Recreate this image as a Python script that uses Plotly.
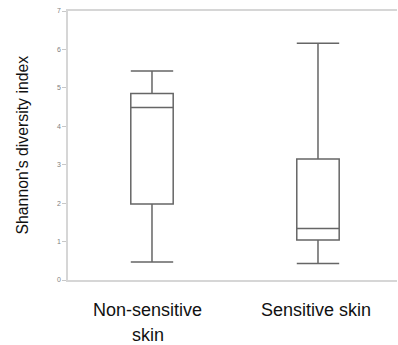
import plotly.graph_objects as go

categories = ["Non-sensitive skin", "Sensitive skin"]
tick_text = ["Non-sensitive<br>skin", "Sensitive skin"]
lower_whisker = [0.47, 0.43]
q1 = [1.98, 1.04]
median = [4.49, 1.34]
q3 = [4.85, 3.15]
upper_whisker = [5.44, 6.16]
y_ticks = [0, 1, 2, 3, 4, 5, 6, 7]

fig = go.Figure()
fig.add_trace(go.Box(
    x=categories,
    q1=q1, median=median, q3=q3,
    lowerfence=lower_whisker, upperfence=upper_whisker,
    fillcolor="rgba(255,255,255,0)",
    line=dict(color="#666666", width=1.5),
    whiskerwidth=1,
    boxpoints=False,
    showlegend=False,
))

for cat, txt, dx in zip(categories, tick_text, [-4, -2]):
    for i, line in enumerate(txt.split("<br>")):
        fig.add_annotation(
            x=cat, xref="x", y=0, yref="paper",
            text=line, showarrow=False,
            yanchor="middle", xanchor="center",
            xshift=dx, yshift=-30 - 25 * i,
            font=dict(family="Liberation Sans, Arial", size=18, color="#111111"),
        )

fig.add_annotation(
    x=0, xref="paper", xshift=-46, y=0.5, yref="paper",
    text="Shannon's diversity index", textangle=-90, showarrow=False,
    xanchor="center", yanchor="middle",
    font=dict(family="Liberation Sans, Arial", size=15.8, color="#111111"),
)

fig.update_layout(
    width=398, height=345,
    margin=dict(l=68, r=1, t=11, b=65),
    paper_bgcolor="white", plot_bgcolor="white",
    boxgap=0.635,
    xaxis=dict(
        type="category", range=[-0.506, 1.476],
        showticklabels=False, ticks="",
        showline=True, mirror=True, linecolor="#d6d6d6", linewidth=1.5,
        showgrid=False, zeroline=False,
    ),
    yaxis=dict(
        range=[0, 7], tickvals=y_ticks,
        ticks="outside", ticklen=4, tickcolor="#c8c8c8", tickwidth=1,
        tickfont=dict(family="Liberation Sans, Arial", size=7, color="#808080"),
        showline=True, linecolor="#d6d6d6", linewidth=1.5,
        showgrid=False, zeroline=False,
    ),
)

fig.write_html("out.html")
